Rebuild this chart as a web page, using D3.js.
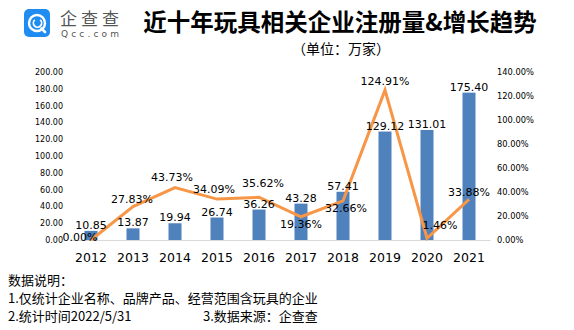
<!DOCTYPE html>
<html>
<head>
<meta charset="utf-8">
<script src="https://cdn.jsdelivr.net/npm/d3@7"></script>
<style>
  html, body { margin: 0; padding: 0; background: #fff; }
  svg { display: block; }
</style>
</head>
<body>
<svg id="chart" width="574" height="330"></svg>
<script>
// registrations per year (10k companies) and year-on-year growth (%)
const years = ["2012", "2013", "2014", "2015", "2016", "2017", "2018", "2019", "2020", "2021"];
const registrations = [10.85, 13.87, 19.94, 26.74, 36.26, 43.28, 57.41, 129.12, 131.01, 175.40];
const growth = [0.00, 27.83, 43.73, 34.09, 35.62, 19.36, 32.66, 124.91, 1.46, 33.88];
const leftTicks = [0, 20, 40, 60, 80, 100, 120, 140, 160, 180, 200];
const rightTicks = [0, 20, 40, 60, 80, 100, 120, 140];

// label nudges for the growth line (dx, dy of text centre from the point)
const pctLabelOffset = [[-11, -3], [-1, -8], [-3, -10], [-3, -10], [4, -14], [0, 7], [3, 7], [0, -9], [13, -13], [0, -7]];

const notes = [
  "数据说明：",
  "1.仅统计企业名称、品牌产品、经营范围含玩具的企业",
  "2.统计时间2022/5/31"
];

const BLUE = "#4f81bd";
const ORANGE = "#f79646";
const NUM_FONT = "'DejaVu Sans', Verdana, sans-serif";
const CJK_FONT = "'Noto Sans CJK SC', 'Noto Sans', sans-serif";

const svg = d3.select("#chart");

const plot = { left: 70, right: 490, top: 72, bottom: 240 };

const x = d3.scaleBand()
  .domain(years)
  .range([plot.left, plot.right]);

const yLeft = d3.scaleLinear().domain([0, 200]).range([plot.bottom, plot.top]);
const yRight = d3.scaleLinear().domain([0, 140]).range([plot.bottom, plot.top]);

const cx = (d) => x(d) + x.bandwidth() / 2;

// ---- logo ----
const logo = svg.append("g").attr("transform", "translate(24,9)");
logo.append("rect")
  .attr("width", 26).attr("height", 28).attr("rx", 5)
  .attr("fill", "#1f8cf2");
logo.append("circle")
  .attr("cx", 13).attr("cy", 14).attr("r", 8)
  .attr("fill", "none").attr("stroke", "#fff").attr("stroke-width", 2.4);
logo.append("path")
  .attr("d", "M17.5,19.5 L21,23")
  .attr("stroke", "#fff").attr("stroke-width", 2.6).attr("stroke-linecap", "round");
logo.append("path")
  .attr("d", d3.arc()({ innerRadius: 3.2, outerRadius: 5, startAngle: 0.7, endAngle: 2 * Math.PI - 0.7 }))
  .attr("transform", "translate(13.5,14)")
  .attr("fill", "#fff");
svg.append("text")
  .attr("x", 60).attr("y", 25)
  .attr("font-family", CJK_FONT).attr("font-size", 17)
  .attr("fill", "#555")
  .attr("textLength", 59)
  .text("企查查");
svg.append("text")
  .attr("x", 61).attr("y", 37)
  .attr("font-family", NUM_FONT).attr("font-size", 9)
  .attr("fill", "#555")
  .attr("textLength", 58)
  .text("Qcc.com");

// ---- titles ----
svg.append("text")
  .attr("x", 340).attr("y", 31)
  .attr("text-anchor", "middle")
  .attr("font-family", CJK_FONT).attr("font-size", 23.5).attr("font-weight", "bold")
  .attr("fill", "#000")
  .text("近十年玩具相关企业注册量&增长趋势");
svg.append("text")
  .attr("x", 341).attr("y", 54)
  .attr("text-anchor", "middle")
  .attr("font-family", CJK_FONT).attr("font-size", 14)
  .attr("fill", "#000")
  .text("（单位：万家）");

// ---- axes ----
const leftAxis = svg.append("g")
  .attr("transform", `translate(${plot.left - 7},0)`)
  .call(d3.axisLeft(yLeft).tickValues(leftTicks).tickSize(0).tickPadding(0).tickFormat(d3.format(".2f")));
leftAxis.select(".domain").remove();
leftAxis.selectAll("text")
  .attr("font-family", NUM_FONT).attr("font-size", 8).attr("fill", "#000");

const rightAxis = svg.append("g")
  .attr("transform", `translate(${plot.right + 7},0)`)
  .call(d3.axisRight(yRight).tickValues(rightTicks).tickSize(0).tickPadding(0).tickFormat((d) => d3.format(".2f")(d) + "%"));
rightAxis.select(".domain").remove();
rightAxis.selectAll("text")
  .attr("font-family", NUM_FONT).attr("font-size", 8.3).attr("fill", "#000");

const xAxis = svg.append("g")
  .attr("transform", `translate(0,${plot.bottom})`)
  .call(d3.axisBottom(x).tickSize(0).tickPadding(13));
xAxis.select(".domain").attr("stroke", "#d9d9d9").attr("stroke-width", 1);
xAxis.selectAll("text")
  .attr("font-family", NUM_FONT).attr("font-size", 12.5).attr("fill", "#000");

// ---- bars ----
const barW = 13;
svg.append("g")
  .selectAll("rect")
  .data(registrations)
  .join("rect")
    .attr("x", (d, i) => cx(years[i]) - barW / 2)
    .attr("y", (d) => yLeft(d))
    .attr("width", barW)
    .attr("height", (d) => plot.bottom - yLeft(d))
    .attr("fill", BLUE);

// ---- growth line ----
const line = d3.line()
  .x((d, i) => cx(years[i]))
  .y((d) => yRight(d));

svg.append("path")
  .datum(growth)
  .attr("d", line)
  .attr("fill", "none")
  .attr("stroke", ORANGE)
  .attr("stroke-width", 3)
  .attr("stroke-linejoin", "miter");

// ---- value labels ----
svg.append("g")
  .selectAll("text")
  .data(registrations)
  .join("text")
    .attr("x", (d, i) => cx(years[i]))
    .attr("y", (d) => yLeft(d) - 2)
    .attr("text-anchor", "middle")
    .attr("font-family", NUM_FONT).attr("font-size", 11).attr("fill", "#000")
    .text((d) => d3.format(".2f")(d));

svg.append("g")
  .selectAll("text")
  .data(growth)
  .join("text")
    .attr("x", (d, i) => cx(years[i]) + pctLabelOffset[i][0])
    .attr("y", (d, i) => yRight(d) + pctLabelOffset[i][1])
    .attr("dy", "0.36em")
    .attr("text-anchor", "middle")
    .attr("font-family", NUM_FONT).attr("font-size", 11).attr("fill", "#000")
    .text((d) => d3.format(".2f")(d) + "%");

// ---- notes ----
svg.append("g")
  .selectAll("text")
  .data(notes)
  .join("text")
    .attr("x", 8)
    .attr("y", (d, i) => 285 + i * 18)
    .attr("font-family", CJK_FONT).attr("font-size", 13).attr("fill", "#000")
    .text((d) => d);
svg.append("text")
  .attr("x", 203).attr("y", 321)
  .attr("font-family", CJK_FONT).attr("font-size", 13).attr("fill", "#000")
  .text("3.数据来源：企查查");
</script>
</body>
</html>
